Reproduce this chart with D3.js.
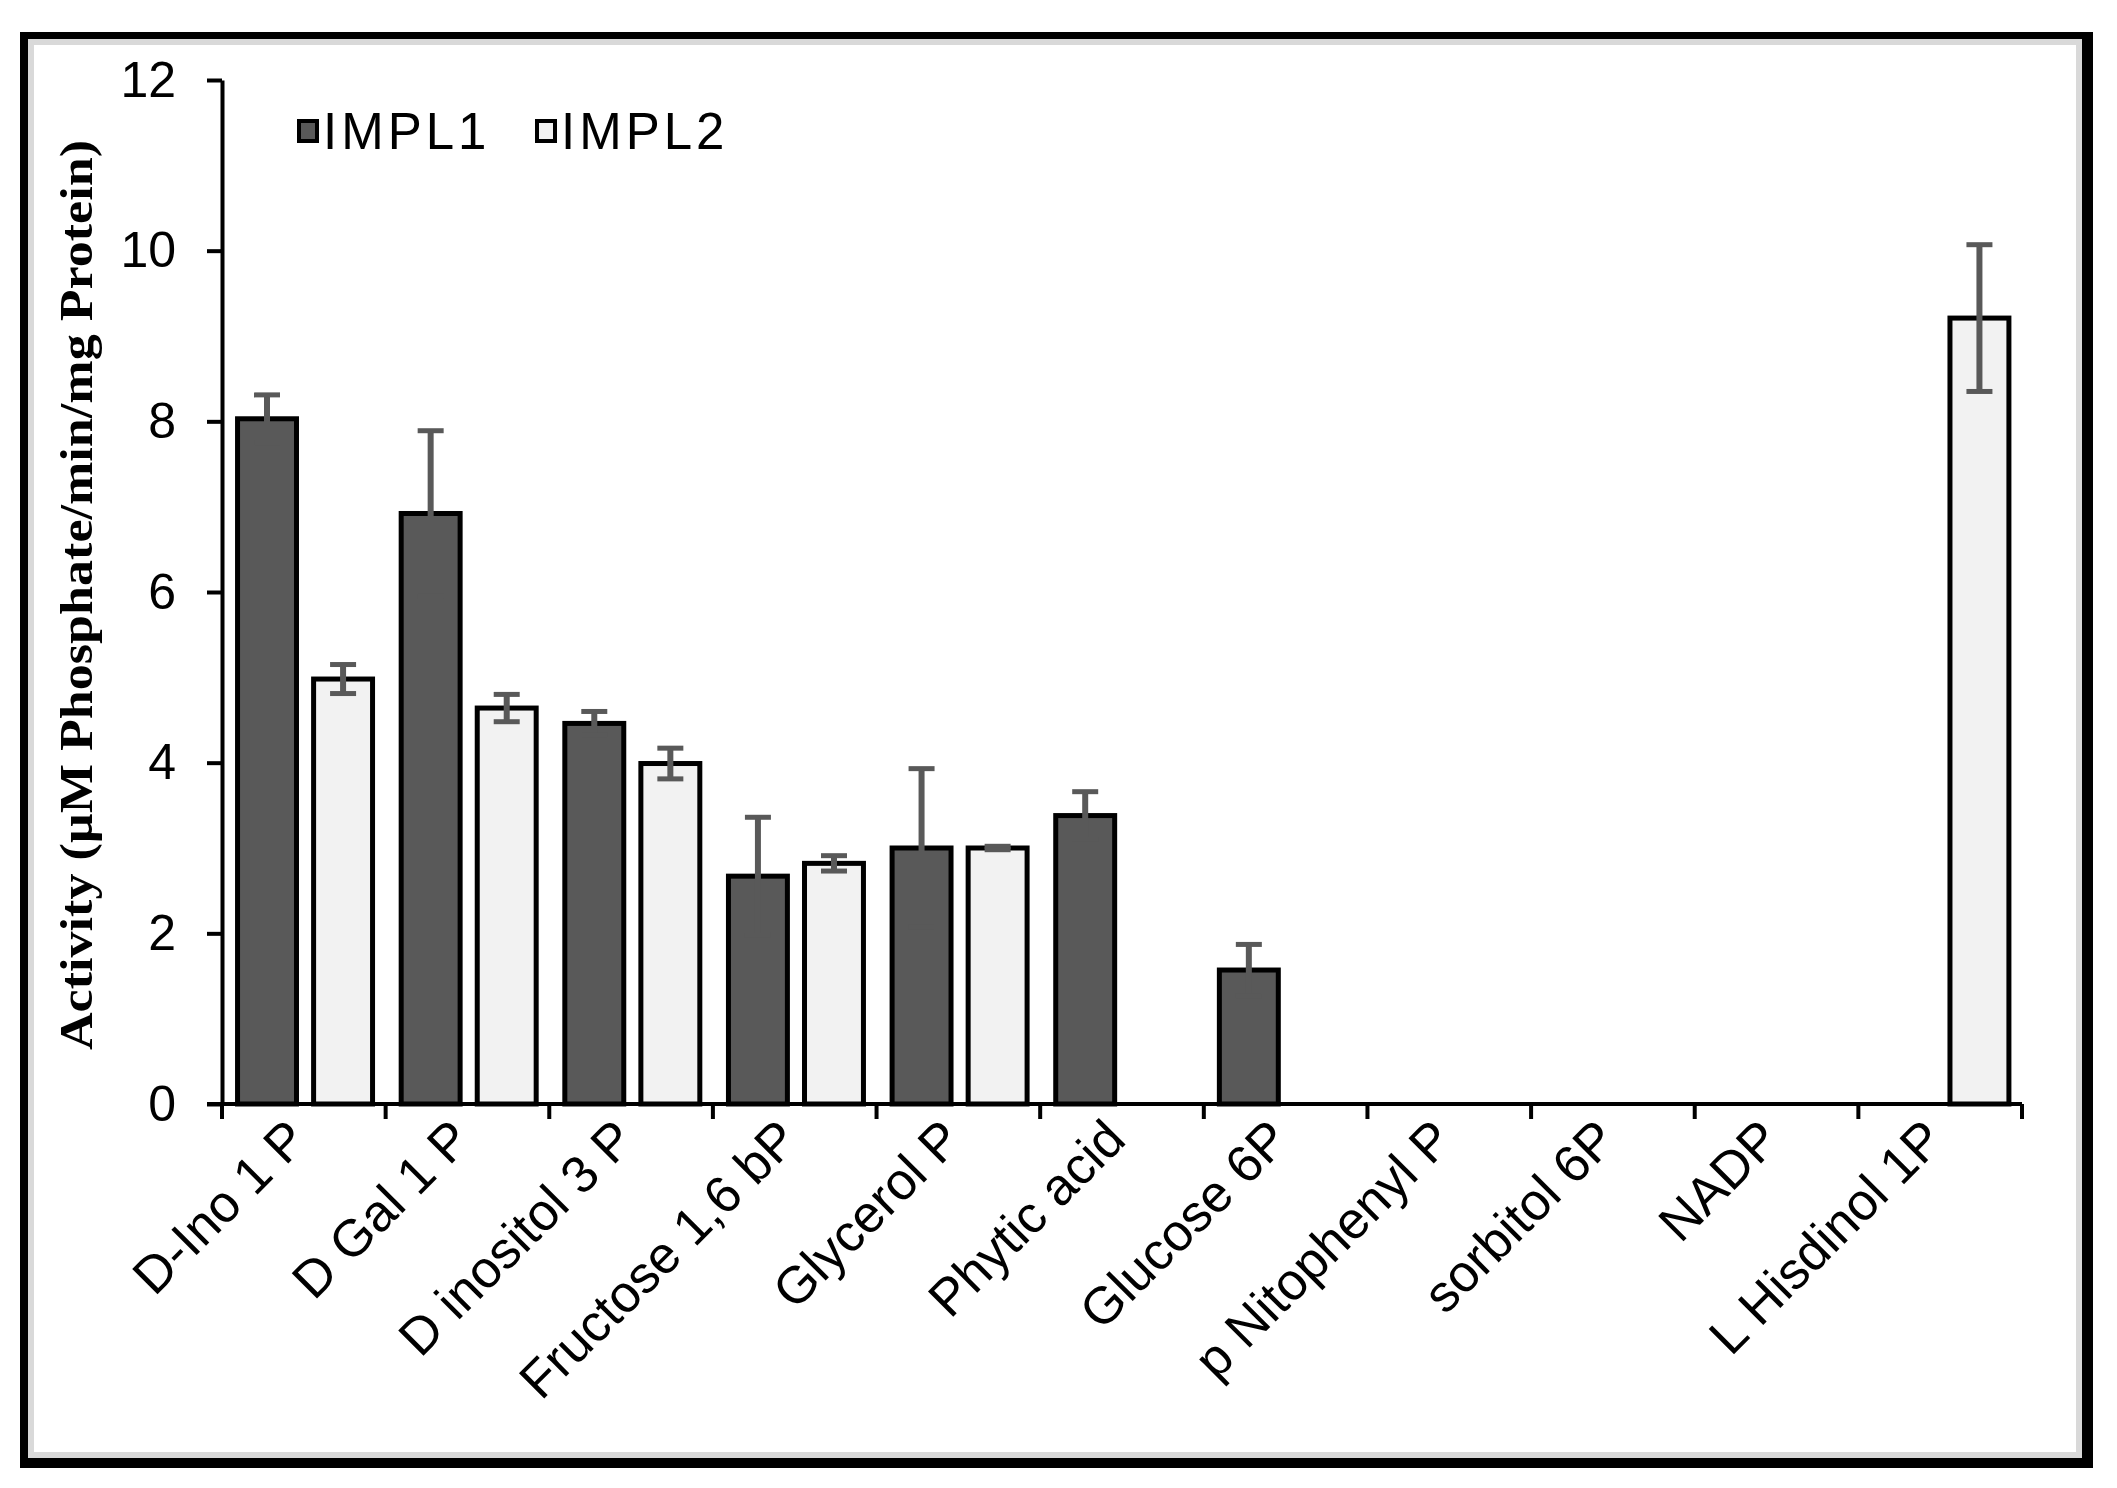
<!DOCTYPE html>
<html>
<head>
<meta charset="utf-8">
<script src="https://cdn.jsdelivr.net/npm/d3@7"></script>
<style>
  html, body { margin: 0; padding: 0; background: #fff; }
</style>
</head>
<body>
<div id="chart"></div>
<script>
// data
const categories = ["D-Ino 1 P", "D Gal 1 P", "D inositol 3 P", "Fructose 1,6 bP", "Glycerol P",
    "Phytic acid", "Glucose 6P", "p Nitophenyl P", "sorbitol 6P", "NADP", "L Hisdinol 1P"]
const seriesNames = ["IMPL1", "IMPL2"]
const impl1 = [8.03, 6.92, 4.46, 2.67, 3.0, 3.38, 1.57, 0, 0, 0, 0]
const impl1Err = [0.28, 0.97, 0.14, 0.69, 0.93, 0.28, 0.3, 0, 0, 0, 0]
const impl2 = [4.98, 4.64, 3.99, 2.82, 3.0, 0, 0, 0, 0, 0, 9.21]
const impl2Err = [0.17, 0.16, 0.18, 0.09, 0.02, 0, 0, 0, 0, 0, 0.86]
const yTicks = [0, 2, 4, 6, 8, 10, 12]
const colors = ["#595959", "#f2f2f2"]

const W = 2117, H = 1488
const plotLeft = 222, plotRight = 2022, plotTop = 80, plotBottom = 1104

const svg = d3.select("#chart").append("svg")
    .attr("width", W)
    .attr("height", H)

// frame with the grey inner edge
svg.append("rect").attr("x", 20).attr("y", 32).attr("width", 2073).attr("height", 1436).attr("fill", "#000")
svg.append("rect").attr("x", 28).attr("y", 39).attr("width", 2054).attr("height", 1419).attr("fill", "#fff")
svg.append("rect").attr("x", 31).attr("y", 42).attr("width", 2048).attr("height", 1413)
    .attr("fill", "none").attr("stroke", "#d9d9d9").attr("stroke-width", 6)

const x = d3.scaleBand().domain(categories).range([plotLeft, plotRight])
const bw = x.bandwidth()
const xSub = d3.scaleBand().domain(seriesNames).range([bw * 0.095, bw * 0.92]).paddingInner(0.225)
const y = d3.scaleLinear().domain([0, 12]).range([plotBottom, plotTop])

// rows for the bars
let rows = []
categories.forEach((c, i) => {
    rows.push({ cat: c, s: "IMPL1", v: impl1[i], e: impl1Err[i], col: colors[0] })
    rows.push({ cat: c, s: "IMPL2", v: impl2[i], e: impl2Err[i], col: colors[1] })
})
rows = rows.filter(d => d.v > 0)

svg.append("g").selectAll("rect")
    .data(rows)
    .join("rect")
    .attr("x", d => x(d.cat) + xSub(d.s))
    .attr("y", d => y(d.v))
    .attr("width", xSub.bandwidth())
    .attr("height", d => y(0) - y(d.v))
    .attr("fill", d => d.col)
    .attr("stroke", "#000")
    .attr("stroke-width", 5)

// error bars, same grey as the dark fill so the lower half hides in it
const errG = svg.append("g").attr("stroke", "#595959")
const errRows = rows.filter(d => d.e > 0)
const cx = d => x(d.cat) + xSub(d.s) + xSub.bandwidth() / 2
errG.selectAll("line.stem")
    .data(errRows)
    .join("line")
    .attr("class", "stem")
    .attr("x1", cx).attr("x2", cx)
    .attr("y1", d => y(d.v + d.e))
    .attr("y2", d => y(d.v - d.e))
    .attr("stroke-width", 6)
errG.selectAll("line.capTop")
    .data(errRows)
    .join("line")
    .attr("class", "capTop")
    .attr("x1", d => cx(d) - 13).attr("x2", d => cx(d) + 13)
    .attr("y1", d => y(d.v + d.e)).attr("y2", d => y(d.v + d.e))
    .attr("stroke-width", 5)
errG.selectAll("line.capBot")
    .data(errRows)
    .join("line")
    .attr("class", "capBot")
    .attr("x1", d => cx(d) - 13).attr("x2", d => cx(d) + 13)
    .attr("y1", d => y(d.v - d.e)).attr("y2", d => y(d.v - d.e))
    .attr("stroke-width", 5)

// y axis
const yAxis = svg.append("g")
    .attr("transform", `translate(${plotLeft},0)`)
    .call(d3.axisLeft(y).tickValues(yTicks).tickSize(15).tickSizeOuter(0).tickPadding(31))
yAxis.selectAll("path, line").attr("stroke", "#000").attr("stroke-width", 4)
yAxis.selectAll("text")
    .attr("font-family", "Liberation Sans, Arial, sans-serif")
    .attr("font-size", 50)
    .attr("fill", "#000")

// x axis line and boundary ticks
svg.append("line")
    .attr("x1", plotLeft - 15).attr("x2", plotRight)
    .attr("y1", plotBottom).attr("y2", plotBottom)
    .attr("stroke", "#000").attr("stroke-width", 4)
const bounds = categories.map(c => x(c)).concat([x(categories[categories.length - 1]) + bw])
svg.append("g").selectAll("line")
    .data(bounds)
    .join("line")
    .attr("x1", d => d).attr("x2", d => d)
    .attr("y1", plotBottom).attr("y2", plotBottom + 15)
    .attr("stroke", "#000").attr("stroke-width", 4)

svg.append("g").selectAll("text")
    .data(categories)
    .join("text")
    .attr("transform", d => `translate(${x(d) + bw / 2 + 6},${plotBottom + 38}) rotate(-45)`)
    .attr("text-anchor", "end")
    .attr("font-family", "Liberation Sans, Arial, sans-serif")
    .attr("font-size", 52)
    .attr("fill", "#000")
    .text(d => d)

// y axis title
svg.append("text")
    .attr("transform", `translate(92,595) rotate(-90)`)
    .attr("text-anchor", "middle")
    .attr("font-family", "Liberation Serif, Times New Roman, serif")
    .attr("font-weight", "bold")
    .attr("font-size", 46)
    .attr("textLength", 910)
    .attr("lengthAdjust", "spacingAndGlyphs")
    .text("Activity (µM Phosphate/min/mg Protein)")

// legend
const legendX = [297, 535]
const legend = svg.append("g")
seriesNames.forEach((s, i) => {
    legend.append("rect")
        .attr("x", legendX[i] + 2).attr("y", 121)
        .attr("width", 18).attr("height", 20)
        .attr("fill", colors[i])
        .attr("stroke", "#000").attr("stroke-width", 4)
    legend.append("text")
        .attr("x", legendX[i] + 26).attr("y", 149)
        .attr("font-family", "Liberation Sans, Arial, sans-serif")
        .attr("font-size", 51)
        .attr("letter-spacing", 4)
        .attr("fill", "#000")
        .text(s)
})
</script>
</body>
</html>
